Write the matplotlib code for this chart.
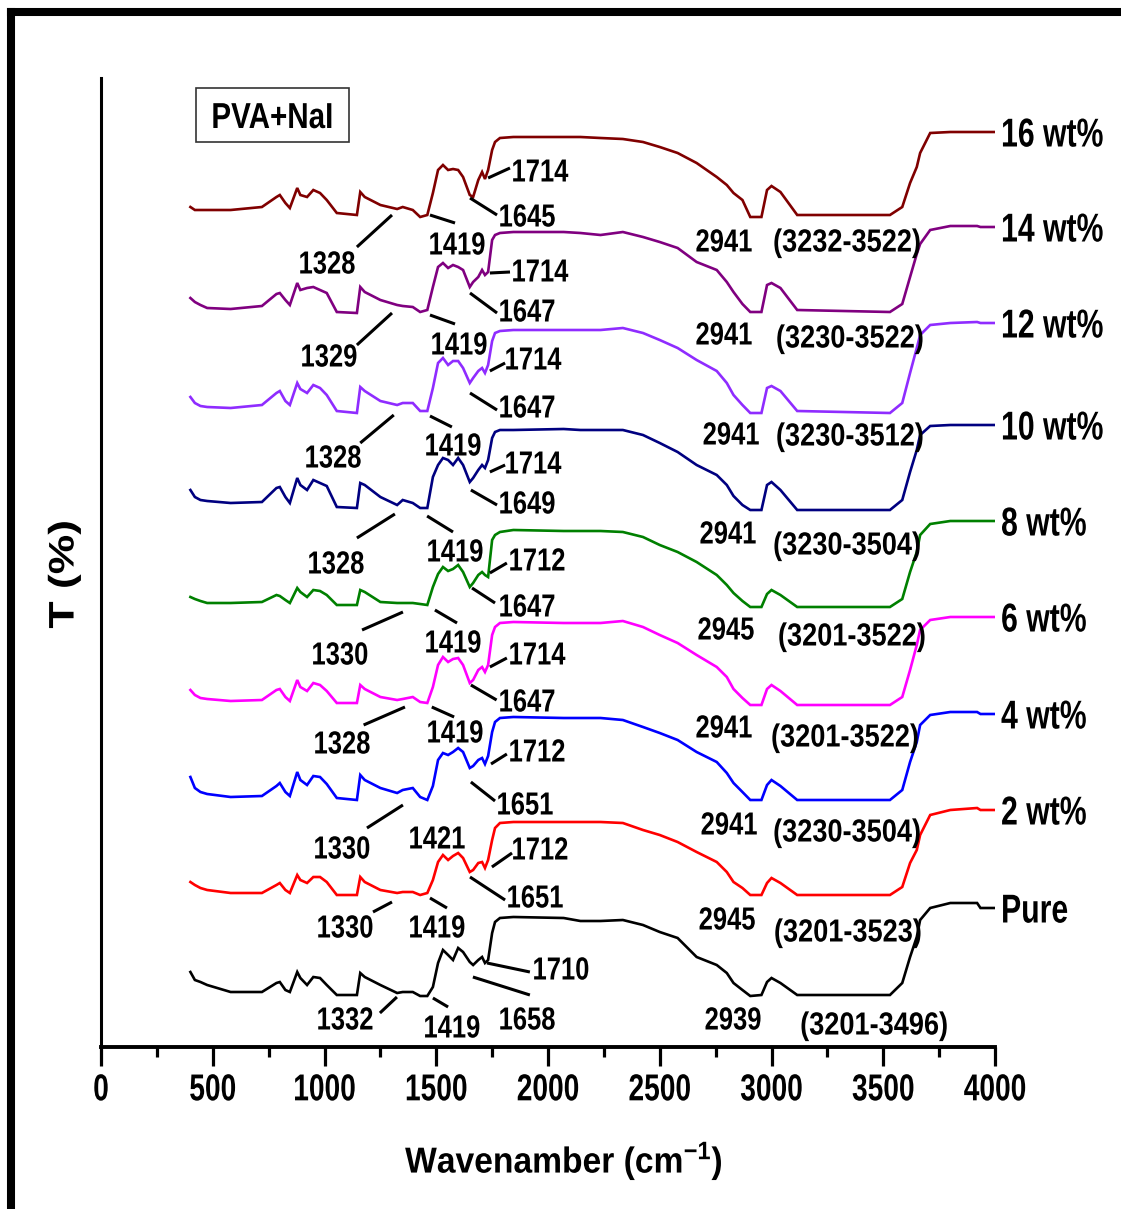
import numpy as np
import matplotlib
matplotlib.use("Agg")
import matplotlib.pyplot as plt
from matplotlib.patheffects import AbstractPathEffect
from matplotlib.transforms import Affine2D
from matplotlib.patches import Rectangle
from matplotlib.lines import Line2D

plt.rcParams["font.family"] = ["Liberation Sans", "DejaVu Sans"]
plt.rcParams["font.weight"] = "bold"
plt.rcParams["mathtext.fontset"] = "custom"
plt.rcParams["mathtext.rm"] = "Liberation Sans:bold"
plt.rcParams["mathtext.it"] = "Liberation Sans:bold"
plt.rcParams["mathtext.bf"] = "Liberation Sans:bold"
plt.rcParams["mathtext.default"] = "rm"

# ---------------------------------------------------------------- data
wavenumber = [400, 420, 445, 475, 580, 720, 785, 800, 825, 845,
              878, 892, 922, 950, 980, 1010, 1055, 1145, 1160, 1180,
              1250, 1325, 1350, 1395, 1428, 1460, 1485, 1508, 1530, 1553,
              1575, 1598, 1620, 1650, 1665, 1688, 1705, 1718, 1732, 1750,
              1763, 1785, 1845, 2070, 2145, 2235, 2335, 2425, 2500, 2580,
              2665, 2755, 2800, 2830, 2870, 2905, 2955, 2980, 3000, 3040,
              3115, 3530, 3585, 3620, 3650, 3665, 3710, 3800, 3920, 3935,
              4000]

# transmittance of each film (arbitrary units, relative to the O-H band floor)
t_16 = [8, 5, 5, 5, 5, 8, 18, 20, 12, 7,
        27, 20, 18, 25, 22, 15, 2, 0, 23, 18,
        10, 6, 8, 5, -2, 0, 22, 45, 50, 45,
        46, 45, 38, 20, 18, 35, 43, 36, 45, 65,
        73, 77, 78, 78, 78, 77, 76, 73, 68, 62,
        52, 38, 30, 22, 15, -2, -2, 25, 29, 23,
        0, 0, 8, 32, 48, 62, 82, 83, 83, 83,
        83]
t_14 = [14, 10, 7, 4, 3, 6, 18, 19, 12, 7,
        29, 22, 24, 25, 22, 19, 0, -1, 25, 20,
        12, 7, 6, 5, 0, 2, 25, 45, 49, 44,
        47, 45, 42, 25, 30, 35, 42, 37, 40, 72,
        77, 79, 80, 80, 79, 77, 80, 75, 70, 64,
        50, 42, 30, 20, 8, 0, 0, 27, 29, 24,
        2, 0, 8, 35, 58, 68, 82, 86, 86, 85,
        85]
t_12 = [16, 10, 7, 6, 5, 8, 20, 22, 12, 8,
        30, 24, 20, 28, 25, 18, 2, 0, 26, 22,
        12, 8, 10, 10, 2, 2, 25, 50, 55, 48,
        52, 52, 45, 30, 35, 42, 45, 40, 48, 72,
        80, 82, 83, 83, 83, 83, 85, 80, 73, 65,
        53, 42, 30, 18, 8, 0, 0, 25, 27, 22,
        2, 0, 10, 40, 65, 78, 88, 90, 91, 90,
        90]
t_10 = [20, 13, 10, 9, 7, 8, 22, 23, 13, 7,
        32, 25, 20, 30, 27, 24, 3, 2, 27, 25,
        13, 5, 10, 7, 2, 2, 33, 45, 52, 50,
        45, 52, 45, 28, 32, 40, 45, 42, 50, 72,
        78, 80, 80, 81, 80, 80, 80, 75, 67, 58,
        45, 35, 25, 14, 5, 0, 0, 25, 28, 20,
        0, 0, 10, 38, 60, 75, 84, 85, 85, 85,
        85]
t_8 = [10, 8, 6, 4, 4, 5, 12, 11, 7, 4,
       19, 15, 10, 17, 16, 12, 2, 2, 17, 15,
       5, 4, 4, 4, 3, 2, 20, 33, 40, 36,
       38, 42, 35, 20, 24, 32, 35, 32, 30, 67,
       72, 75, 77, 76, 76, 76, 75, 70, 62, 55,
       45, 32, 22, 14, 6, 0, 0, 13, 17, 12,
       0, 0, 8, 35, 55, 72, 83, 86, 86, 86,
       86]
t_6 = [15, 10, 7, 6, 4, 5, 15, 16, 8, 4,
       25, 18, 14, 22, 20, 14, 2, 2, 20, 16,
       8, 5, 6, 8, 3, 2, 18, 40, 48, 43,
       46, 47, 40, 22, 25, 35, 38, 33, 40, 70,
       78, 82, 83, 82, 82, 82, 84, 78, 70, 62,
       50, 38, 28, 16, 7, 0, 0, 16, 20, 14,
       0, 0, 8, 35, 60, 75, 85, 88, 88, 88,
       88]
t_4 = [23, 12, 8, 6, 3, 4, 14, 17, 8, 4,
       28, 20, 15, 24, 23, 16, 2, 0, 25, 20,
       12, 7, 10, 12, 3, 0, 14, 40, 47, 45,
       48, 52, 48, 32, 34, 40, 42, 36, 44, 68,
       78, 82, 83, 82, 82, 82, 80, 73, 67, 60,
       48, 38, 27, 17, 8, 0, 0, 15, 20, 14,
       0, 0, 10, 38, 58, 75, 85, 88, 88, 86,
       86]
t_2 = [13, 10, 7, 5, 2, 2, 10, 12, 5, 2,
       20, 15, 12, 18, 18, 13, 0, 0, 18, 13,
       5, 2, 3, 3, 0, 2, 15, 33, 40, 35,
       39, 42, 37, 23, 25, 32, 33, 27, 35, 55,
       67, 72, 73, 73, 73, 73, 72, 65, 60, 53,
       43, 33, 23, 13, 7, 0, 0, 12, 17, 12,
       0, 0, 8, 32, 45, 60, 80, 85, 87, 85,
       85]
t_pure = [23, 15, 13, 10, 3, 3, 12, 13, 5, 3,
          23, 17, 10, 18, 17, 10, 0, 0, 22, 18,
          10, 2, 3, 3, -1, -1, 8, 32, 45, 40,
          35, 47, 43, 33, 30, 35, 38, 32, 35, 62,
          73, 77, 78, 77, 74, 74, 75, 70, 63, 57,
          38, 30, 22, 12, 5, -1, 0, 13, 17, 12,
          0, 0, 12, 38, 58, 75, 87, 92, 92, 87,
          87]

series_names = ["16 wt%", "14 wt%", "12 wt%", "10 wt%", "8 wt%",
                "6 wt%", "4 wt%", "2 wt%", "Pure"]
series_values = [t_16, t_14, t_12, t_10, t_8, t_6, t_4, t_2, t_pure]
series_colors = ["#800000", "#800080", "#8F2CFF", "#000080", "#008000",
                 "#FF00FF", "#0000FF", "#FF0000", "#000000"]
stack_offsets = [832, 735, 634, 537, 440, 342, 247, 152, 52]

# band labels: (text, x, y[, leader x0, y0, x1, y1]) with y relative to each trace
band_labels = [
    [("1714", 1964, 45, 1732, 37, 1830, 47), ("1645", 1906, 0, 1651, 17, 1772, 0),
     ("1419", 1593, -28, 1472, 0, 1584, -8), ("1328", 1011, -47, 1302, 0, 1145, -32),
     ("2941", 2787, -25), ("(3232-3522)", 3338, -25)],
    [("1714", 1964, 42, 1740, 39, 1830, 40), ("1647", 1906, 2, 1651, 19, 1772, -1),
     ("1419", 1602, -31, 1472, -3, 1584, -12), ("1329", 1020, -43, 1302, -1, 1145, -33),
     ("2941", 2787, -21), ("(3230-3522)", 3351, -24)],
    [("1714", 1933, 55, 1740, 42, 1808, 50), ("1647", 1906, 7, 1651, 20, 1772, 3),
     ("1419", 1575, -31, 1472, -3, 1570, -14), ("1328", 1038, -43, 1310, -2, 1160, -30),
     ("2941", 2819, -20), ("(3230-3512)", 3351, -21)],
    [("1714", 1933, 48, 1740, 38, 1808, 45), ("1649", 1906, 8, 1655, 20, 1772, 5),
     ("1419", 1584, -40, 1459, -6, 1575, -22), ("1328", 1051, -52, 1315, -4, 1145, -28),
     ("2941", 2805, -22), ("(3230-3504)", 3338, -33)],
    [("1712", 1951, 48, 1740, 34, 1816, 44), ("1647", 1906, 2, 1660, 19, 1763, 4),
     ("1419", 1575, -34, 1494, -3, 1593, -16), ("1330", 1069, -46, 1351, -5, 1168, -23),
     ("2945", 2796, -21), ("(3201-3522)", 3360, -27)],
    [("1714", 1951, 52, 1740, 38, 1816, 47), ("1647", 1906, 5, 1655, 20, 1770, 5),
     ("1419", 1584, -26, 1480, -2, 1580, -12), ("1328", 1078, -37, 1360, -2, 1175, -20),
     ("2941", 2787, -21), ("(3201-3522)", 3329, -30)],
    [("1712", 1951, 50, 1745, 36, 1816, 46), ("1651", 1897, -3, 1655, 18, 1763, -1),
     ("1421", 1503, -37), ("1330", 1078, -47, 1351, -5, 1190, -28),
     ("2941", 2810, -23), ("(3230-3504)", 3338, -30)],
    [("1712", 1964, 47, 1749, 28, 1839, 42), ("1651", 1942, -1, 1651, 18, 1808, -5),
     ("1419", 1503, -31, 1472, -3, 1548, -13), ("1330", 1092, -31, 1302, -7, 1217, -17),
     ("2945", 2801, -23), ("(3201-3523)", 3342, -35)],
    [("1710", 2058, 27, 1727, 32, 1919, 23), ("1658", 1906, -23, 1664, 18, 1919, 0),
     ("1419", 1570, -31, 1485, -3, 1553, -12), ("1332", 1092, -23, 1324, -2, 1248, -18),
     ("2939", 2828, -23), ("(3201-3496)", 3459, -28)],
]

x_ticks = [0, 500, 1000, 1500, 2000, 2500, 3000, 3500, 4000]


class Stretch(AbstractPathEffect):
    """Draw text glyphs scaled in glyph space (condensed bold lettering)."""

    def __init__(self, sx=1.0, sy=1.0, about="baseline"):
        super().__init__()
        self.sx, self.sy, self.about = sx, sy, about

    def draw_path(self, renderer, gc, tpath, affine, rgbFace=None):
        ext = tpath.get_extents()
        cx = 0.5 * (ext.x0 + ext.x1)
        cy = 0.0 if self.about == "baseline" else 0.5 * (ext.y0 + ext.y1)
        scale = (Affine2D().translate(-cx, -cy)
                 .scale(self.sx, self.sy).translate(cx, cy))
        renderer.draw_path(gc, tpath, scale + affine, rgbFace)


W, H, DPI = 1121, 1209, 100
fig = plt.figure(figsize=(W / DPI, H / DPI), dpi=DPI)
ax = fig.add_axes([101 / W, (H - 1047) / H, 894 / W, 969 / H])
ax.set_xlim(0, 4000)
ax.set_ylim(0, 969)

for name, vals, col, off in zip(series_names, series_values, series_colors, stack_offsets):
    y = np.asarray(vals, dtype=float) + off
    ax.plot(wavenumber, y, color=col, lw=1.9, solid_joinstyle="miter")
    ax.text(4027, y[-1] - 14.5, name, fontsize=21.75, ha="left", va="baseline",
            clip_on=False, path_effects=[Stretch(1.0, 1.333)])

for labels, off in zip(band_labels, stack_offsets):
    for item in labels:
        text, tx, ty = item[:3]
        if text.startswith("("):
            size, sy = 19.55, 1.176
        else:
            size, sy = 18.4, 1.25
        ax.text(tx, off + ty - 11.5, text, fontsize=size, ha="center", va="baseline",
                clip_on=False, path_effects=[Stretch(1.0, sy)])
        if len(item) == 7:
            x0, y0, x1, y1 = item[3:]
            ax.plot([x0, x1], [off + y0, off + y1], color="black", lw=2.2,
                    solid_capstyle="butt")

# sample legend box
ax.add_patch(Rectangle((425, 905), 685, 54, fill=False, edgecolor="#333333", lw=1.2))
ax.text(767, 919, "PVA+NaI", fontsize=21.3, ha="center", va="baseline",
        path_effects=[Stretch(1.0, 1.22)])

for side in ("top", "right"):
    ax.spines[side].set_visible(False)
ax.spines["left"].set_linewidth(2.2)
ax.spines["bottom"].set_linewidth(2.8)
ax.set_yticks([])
ax.set_xticks(x_ticks)
ax.set_xticks(np.arange(250, 4000, 500), minor=True)
ax.tick_params(axis="x", which="major", direction="out", length=14, width=2.3,
               labelsize=20.25, pad=10)
ax.tick_params(axis="x", which="minor", direction="out", length=7.5, width=2.3)
for lbl in ax.get_xticklabels():
    lbl.set_path_effects([Stretch(1.0, 1.333)])
    lbl.set_fontweight("bold")

ax.set_xlabel("Wavenamber (cm$^{-1}$)", fontsize=24.2, fontweight="bold",
              path_effects=[Stretch(1.0, 1.075)])
ax.xaxis.label.set_va("center")
ax.xaxis.set_label_coords(0.518, -0.1187)
ax.set_ylabel("T (%)", fontsize=32, fontweight="bold",
              path_effects=[Stretch(1.0, 0.8, about="center")])
ax.yaxis.label.set_va("center")
ax.yaxis.set_label_coords(-0.041, 0.488)

# outer frame on the left and top edges
fig.add_artist(Line2D([11 / W, 11 / W], [0, 1197 / H], transform=fig.transFigure,
                      color="black", lw=5.8, solid_capstyle="projecting"))
fig.add_artist(Line2D([11 / W, 1], [1197 / H, 1197 / H], transform=fig.transFigure,
                      color="black", lw=5.8, solid_capstyle="projecting"))

fig.savefig("out.png", dpi=DPI)
